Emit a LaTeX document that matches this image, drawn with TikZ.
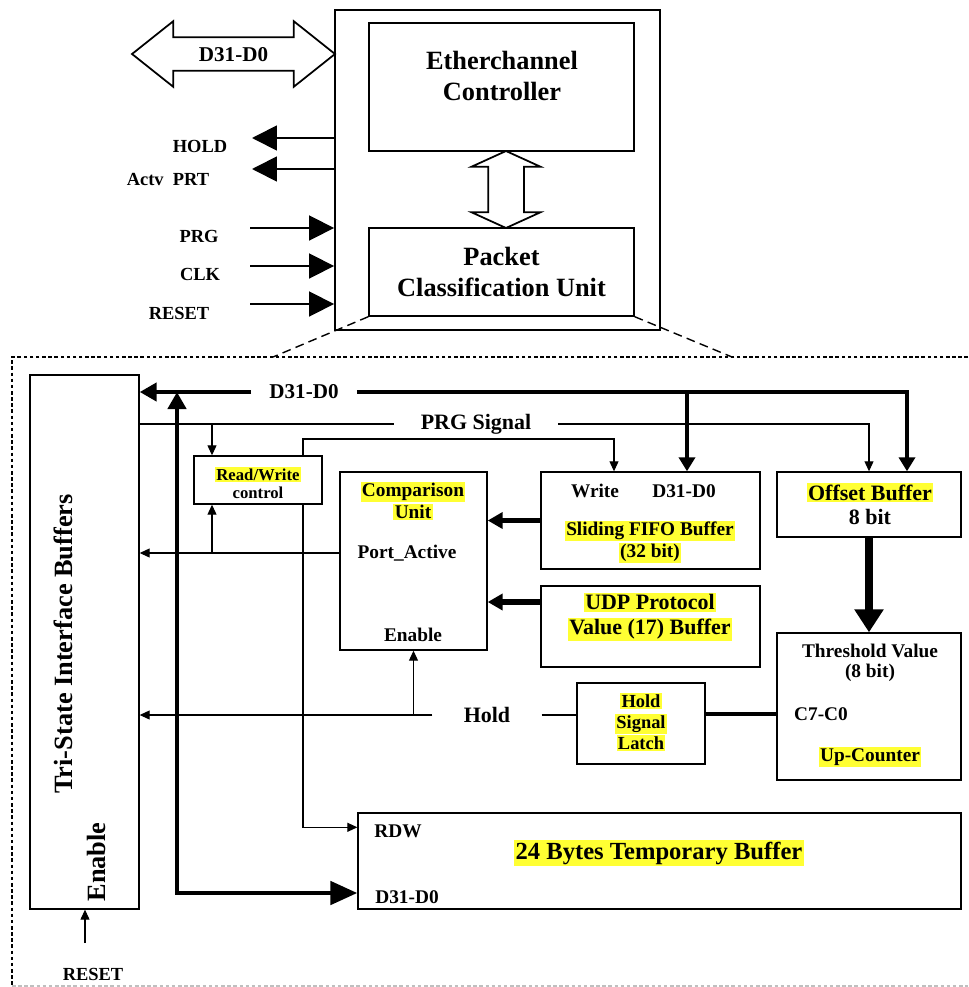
\documentclass[tikz,border=0pt]{standalone}
\usepackage{fontspec}
\setmainfont{Liberation Serif}
\usetikzlibrary{shapes.arrows, arrows.meta, calc, positioning}
\definecolor{hlyellow}{RGB}{255,255,51}
\setlength{\fboxsep}{0.8pt}
\newcommand{\hl}[1]{\colorbox{hlyellow}{#1}}
\tikzstyle{block} = [rectangle, draw=black, line width=0.8pt, fill=white, inner sep=0pt]
\tikzstyle{lbl} = [inner sep=1pt, align=center]
\tikzstyle{hollow} = [double arrow, draw=black, line width=1pt, fill=white,
	inner xsep=0pt, double arrow head indent=0pt]
\tikzstyle{pinarrow} = [line width=1pt, -{Triangle[length=0.5cm, width=0.5cm]}]
\tikzstyle{sig} = [line width=0.6pt]
\tikzstyle{sigarrow} = [sig, -{Triangle[length=0.2cm, width=0.18cm]}]
\tikzstyle{bus} = [line width=2.8pt]
\tikzstyle{busdown} = [bus, -{Triangle[length=0.28cm, width=0.32cm]}]
\tikzstyle{fatarrow} = [line width=3pt, -{Triangle[length=0.3cm, width=0.32cm]}]
\tikzstyle{hugearrow} = [line width=4.5pt, -{Triangle[length=0.46cm, width=0.56cm]}]
\tikzstyle{zoomline} = [line width=0.8pt, dash pattern=on 5pt off 3pt]
\tikzstyle{dashframe} = [line width=0.6pt, dash pattern=on 2pt off 1.5pt]
\tikzstyle{fbig} = [font=\fontsize{15}{18}\selectfont\bfseries]
\tikzstyle{fbus} = [font=\fontsize{12}{14}\selectfont\bfseries]
\tikzstyle{fsig} = [font=\fontsize{12.5}{14}\selectfont\bfseries]
\tikzstyle{fpin} = [font=\fontsize{10.5}{12}\selectfont\bfseries]
\tikzstyle{fsm} = [font=\fontsize{11}{11.5}\selectfont\bfseries]
\tikzstyle{fxs} = [font=\fontsize{9.5}{10.5}\selectfont\bfseries]
\tikzstyle{ftmp} = [font=\fontsize{14}{16}\selectfont\bfseries]

\begin{document}
\begin{tikzpicture}[x=0.02cm, y=-0.02cm]
	% set up canvas
	\useasboundingbox[fill=white] (0,0) rectangle (968,987);

	% set up top block
	\node (outer) [block, line width=1.1pt, minimum width=6.5cm, minimum height=6.4cm] at (497.5,170) {};
	\node (ether) [block, minimum width=5.3cm, minimum height=2.56cm] at (501.5,87) {};
	\node (ether-txt) [lbl, fbig] at (502,76) {Etherchannel\\Controller};
	\node (pcu) [block, minimum width=5.3cm, minimum height=1.76cm, fbig, align=center] at (501.5,272) {Packet\\Classification Unit};
	\node (link) [hollow, rotate=90, minimum height=1.54cm, minimum width=1.34cm, double arrow head extend=0.33cm,
		double arrow tip angle=131, inner ysep=0.34cm] at (506,189.5) {};
	\node (dbus) [hollow, fbus, minimum height=4.06cm, minimum width=1.28cm, double arrow head extend=0.32cm,
		double arrow tip angle=77, inner ysep=5.1pt, text height=8pt, text depth=0pt] at (233.5,54) {D31-D0};

	% set up pins of the top block
	\coordinate (hold-out) at (252,138);
	\coordinate (actv-out) at (252,169);
	\coordinate (prg-in) at (250,228);
	\coordinate (clk-in) at (250,266);
	\coordinate (reset-in) at (250,304);
	\draw[pinarrow] (outer.west |- hold-out) -- (hold-out);
	\draw[pinarrow] (outer.west |- actv-out) -- (actv-out);
	\draw[pinarrow] (prg-in) -- (prg-in -| outer.west);
	\draw[pinarrow] (clk-in) -- (clk-in -| outer.west);
	\draw[pinarrow] (reset-in) -- (reset-in -| outer.west);
	\node (hold-lbl) [lbl, fpin] at (200,146) {HOLD};
	\node (actv-lbl) [lbl, fpin] at (168,179) {Actv\ \ PRT};
	\node (prg-lbl) [lbl, fpin] at (199,236) {PRG};
	\node (clk-lbl) [lbl, fpin] at (200,274) {CLK};
	\node (reset-lbl) [lbl, fpin] at (179,313) {RESET};

	% set up zoom frame
	\coordinate (zoom-l) at (273,357);
	\coordinate (zoom-r) at (732,357);
	\draw[zoomline] (pcu.south west) -- (zoom-l);
	\draw[zoomline] (pcu.south east) -- (zoom-r);
	\draw[dashframe] (968,357) -- (12,357) -- (12,986);
	\draw[dashframe, black!25] (12,986) -- (968,986);

	% set up unit blocks
	\node (tri) [block, minimum width=2.18cm, minimum height=10.68cm] at (84.5,642) {};
	\node (tri-txt) [fbig, rotate=90] at (63,644) {Tri-State Interface Buffers};
	\node (tri-en) [fbig, rotate=90] at (96,862) {Enable};

	\node (rw) [block, minimum width=2.56cm, minimum height=0.96cm] at (258,480) {};
	\node (rw-txt) [lbl, fxs] at (258,483) {\hl{Read/Write}\\control};

	\node (cmp) [block, minimum width=2.94cm, minimum height=3.56cm] at (413.5,561) {};
	\node (cmp-txt) [lbl, fsm] at (413,501) {\hl{Comparison}\\\hl{Unit}};
	\node (pa) [lbl, fsm] at (407,553) {Port\_Active};
	\node (cmp-en) [lbl, fsm] at (413,635) {Enable};

	\node (fifo) [block, minimum width=4.38cm, minimum height=1.94cm] at (650.5,520.5) {};
	\node (fifo-wr) [lbl, fsm] at (595,491) {Write};
	\node (fifo-d) [lbl, fsm] at (684,491) {D31-D0};
	\node (fifo-txt) [lbl, fsm] at (650,542) {\hl{Sliding FIFO Buffer}\\\hl{(32 bit)}};

	\node (udp) [block, minimum width=4.38cm, minimum height=1.62cm] at (650.5,626.5) {};
	\node (udp-txt) [lbl, fsig] at (650,617) {\hl{UDP Protocol}\\\hl{Value (17) Buffer}};

	\node (off) [block, minimum width=3.68cm, minimum height=1.3cm] at (869,504.5) {};
	\node (off-txt) [lbl, fsig] at (870,504) {\hl{Offset Buffer}\\8 bit};

	\node (thr) [block, minimum width=3.68cm, minimum height=2.94cm] at (869,706.5) {};
	\node (thr-txt) [lbl, fsm] at (870,663) {Threshold Value\\(8 bit)};
	\node (c7) [lbl, fsm] at (821,714) {C7-C0};
	\node (upc) [lbl, fsm] at (870,757) {\hl{Up-Counter}};

	\node (latch) [block, minimum width=2.56cm, minimum height=1.62cm] at (641,723.5) {};
	\node (latch-txt) [lbl, fpin] at (641,722) {\hl{Hold}\\\hl{Signal}\\\hl{Latch}};

	\node (tmp) [block, minimum width=12.06cm, minimum height=1.92cm] at (659.5,861) {};
	\node (tmp-rdw) [lbl, fsm] at (398,831) {RDW};
	\node (tmp-d) [lbl, fsm] at (407,897) {D31-D0};
	\node (tmp-txt) [lbl, ftmp] at (659,853) {\hl{24 Bytes Temporary Buffer}};

	% D31-D0 bus
	\node (bus-txt) [lbl, fbus, inner xsep=0.36cm] at (304,392) {D31-D0};
	\coordinate (bus-fifo) at (687,392);
	\coordinate (bus-off) at (907,392);
	\coordinate (bus-low) at (177,893);
	\draw[busdown] (bus-txt.east) -- (bus-off) -- (bus-off |- off.north);
	\draw[busdown] (bus-fifo) -- (bus-fifo |- fifo.north);
	\draw[bus, -{Triangle[length=0.34cm, width=0.36cm]}] (bus-txt.west) -- (bus-txt.west -| tri.east);
	\draw[bus, {Triangle[length=0.34cm, width=0.36cm]}-{Triangle[length=0.54cm, width=0.46cm]}]
		(bus-low |- bus-txt) -- (bus-low) -- (bus-low -| tmp.west);

	% PRG signal
	\node (prg-txt) [lbl, fsig, inner xsep=0.53cm] at (476,424) {PRG Signal};
	\coordinate (prg-rw) at (212,424);
	\draw[sig] (prg-txt.west) -- (prg-txt.west -| tri.east);
	\draw[sigarrow] (prg-rw) -- (prg-rw |- rw.north);
	\draw[sigarrow] (prg-txt.east) -| (off.north);

	% write and RDW line
	\coordinate (wr-l) at (303,439);
	\coordinate (wr-r) at (614,439);
	\draw[sigarrow] (wr-l |- rw.north) -- (wr-l) -- (wr-r) -- (wr-r |- fifo.north);
	\draw[sigarrow] (wr-l |- rw.south) |- ([yshift=-0.3cm]tmp.north west);

	% port active
	\coordinate (pa-rw) at (212,553);
	\draw[sigarrow] (cmp.west |- pa) -- (tri.east |- pa);
	\draw[sigarrow] (pa-rw) -- (pa-rw |- rw.south);

	% inputs of the comparison unit
	\draw[fatarrow] (fifo.west) -- (fifo.west -| cmp.east);
	\draw[fatarrow] ([yshift=0.49cm]udp.west) -- ([yshift=0.49cm]udp.west -| cmp.east);
	\draw[hugearrow] (off.south) -- (thr.north);

	% hold
	\node (hold-txt) [lbl, fsig, inner xsep=0.62cm] at (487,715) {Hold};
	\draw[sig] (hold-txt.east) -- (hold-txt.east -| latch.west);
	\draw[sigarrow] (hold-txt.west) -- (hold-txt.west -| tri.east);
	\draw[sigarrow] (cmp.south |- hold-txt) -- (cmp.south);
	\draw[line width=2.3pt] (latch.east |- c7) -- (thr.west |- c7);

	% reset
	\node (rst-txt) [lbl, fpin] at (93,974) {RESET};
	\coordinate (rst-in) at (85,943);
	\draw[sigarrow] (rst-in) -- (rst-in |- tri.south);

\end{tikzpicture}
\end{document}
